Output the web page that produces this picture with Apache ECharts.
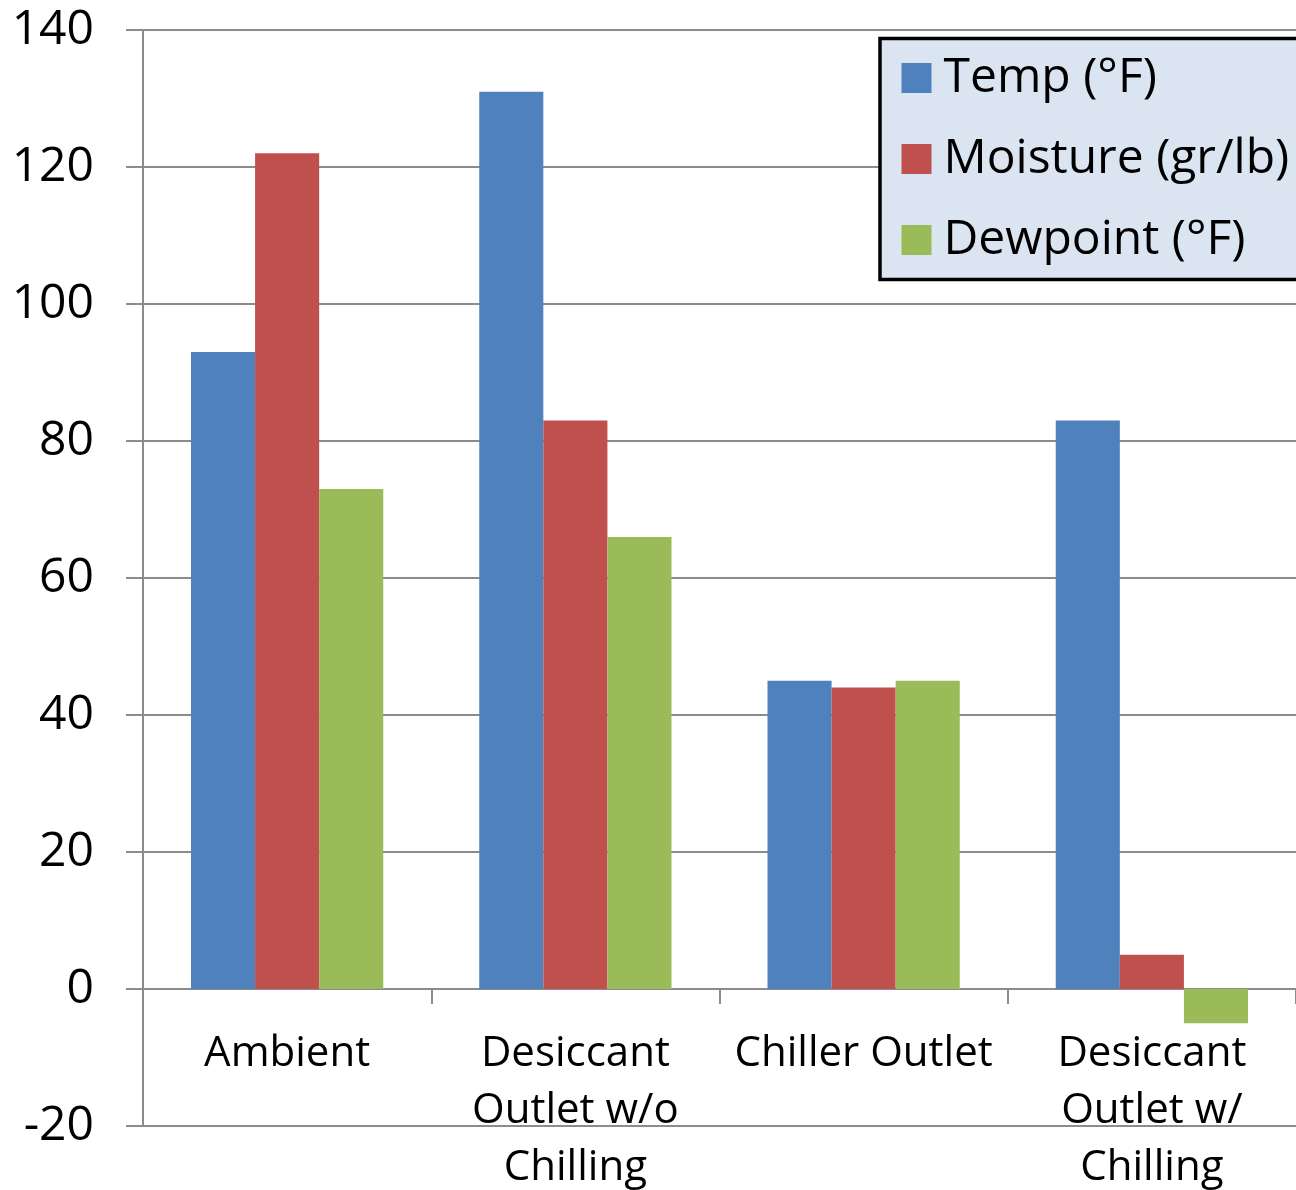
<!DOCTYPE html>
<html>
<head>
<meta charset="utf-8">
<script src="https://cdn.jsdelivr.net/npm/echarts@6/dist/echarts.min.js"></script>
<style>
html,body{margin:0;padding:0;background:#fff;}
#chart{width:1296px;height:1190px;}
</style>
</head>
<body>
<div id="chart"></div>
<script>
const categories = ['Ambient', 'Desiccant\nOutlet w/o\nChilling', 'Chiller Outlet', 'Desiccant\nOutlet w/\nChilling'];
const seriesNames = ['Temp (°F)', 'Moisture (gr/lb)', 'Dewpoint (°F)'];
const tempValues = [93, 131, 45, 83];
const moistureValues = [122, 83, 44, 5];
const dewpointValues = [73, 66, 45, -5];
const colors = ['#4F81BD', '#C0504D', '#9BBB59'];
const yMin = -20, yMax = 140, yInterval = 20;

const FONT = 'Open Sans';
const lineColor = '#8c8c8c';
const chart = echarts.init(document.getElementById('chart'), null, {renderer: 'canvas'});
const dataSets = [tempValues, moistureValues, dewpointValues];

chart.setOption({
  animation: false,
  backgroundColor: '#ffffff',
  textStyle: {fontFamily: FONT},
  grid: {left: 143, right: 0, top: 30, bottom: 64, containLabel: false, outerBoundsMode: 'none'},
  legend: {
    orient: 'vertical',
    left: 880,
    top: 38.5,
    padding: [15.5, 60, 15.5, 21.5],
    itemGap: 33,
    itemWidth: 30,
    itemHeight: 30,
    icon: 'rect',
    backgroundColor: '#DBE5F1',
    borderColor: '#000000',
    borderWidth: 3.5,
    textStyle: {fontFamily: FONT, fontSize: 48, lineHeight: 48, color: '#000', padding: [0, 0, 0, 7]},
    data: seriesNames
  },
  xAxis: {
    type: 'category',
    data: categories,
    axisLine: {show: true, onZero: true, lineStyle: {color: lineColor, width: 2}},
    axisTick: {show: true, length: 15, inside: false, alignWithLabel: false, lineStyle: {color: lineColor, width: 2}},
    axisLabel: {interval: 0, fontFamily: FONT, fontSize: 42, lineHeight: 57, color: '#000', margin: -100},
    splitLine: {show: false}
  },
  yAxis: {
    type: 'value',
    min: yMin, max: yMax, interval: yInterval,
    axisLine: {show: true, lineStyle: {color: lineColor, width: 2}},
    axisTick: {show: true, length: 17, lineStyle: {color: lineColor, width: 2}},
    axisLabel: {fontFamily: FONT, fontSize: 48, color: '#000', margin: 49},
    splitLine: {show: true, lineStyle: {color: lineColor, width: 2}}
  },
  series: seriesNames.map((name, i) => ({
    name: name,
    type: 'bar',
    data: dataSets[i],
    barGap: '0%',
    barCategoryGap: '33.3%',
    itemStyle: {color: colors[i]},
    emphasis: {disabled: true}
  }))
});
</script>
</body>
</html>
